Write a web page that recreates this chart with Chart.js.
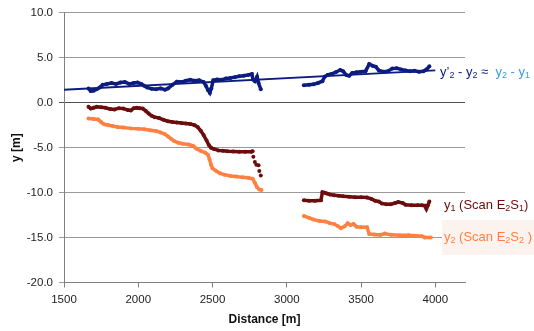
<!DOCTYPE html>
<html>
<head>
<meta charset="utf-8">
<script src="https://cdn.jsdelivr.net/npm/chart.js@4/dist/chart.umd.min.js"></script>
<style>
  html, body { margin: 0; padding: 0; background: #fff; }
  #wrap { width: 534px; height: 331px; }
</style>
</head>
<body>
<div id="wrap"><canvas id="graph" width="534" height="331"></canvas></div>
<script>
// tick labels
const xTicks = [1500, 2000, 2500, 3000, 3500, 4000];
const yTicks = [10, 5, 0, -5, -10, -15, -20];

// y'2 - y2 (navy dots), null = gap in the scan
const diffX = [1665,1680,1700,1720,1740,1760,1790,1820,1850,1880,1910,1940,1970,1995,2020,2040,2060,2090,2120,2150,2180,2200,2230,2260,2290,2320,2350,2380,2410,2440,2455,2470,2482,2492,2505,2530,2560,2590,2620,2650,2680,2710,2740,2765,2772,2785,2800,2810,2825,
  3000,
  3115,3150,3180,3210,3240,3255,3275,3300,3330,3360,3380,3400,3420,3440,3470,3500,3530,3555,3580,3600,3620,3650,3680,3710,3740,3770,3800,3830,3860,3890,3920,3940,3960];
const diffY = [1.6,1.3,1.35,1.5,1.7,2.0,2.1,2.2,2.1,2.25,2.3,2.1,2.2,2.25,2.1,1.9,1.7,1.55,1.5,1.6,1.45,1.6,2.0,2.35,2.3,2.45,2.55,2.45,2.5,2.3,1.9,1.4,1.1,1.6,2.5,2.6,2.55,2.7,2.75,2.85,2.95,3.0,3.1,3.2,2.6,2.4,2.9,2.2,1.5,
  null,
  1.95,2.0,2.05,2.2,2.4,2.9,3.1,3.2,3.4,3.65,3.5,3.1,3.0,3.3,3.4,3.45,3.5,4.3,4.1,4.0,3.6,3.45,3.5,3.8,3.85,3.7,3.6,3.5,3.55,3.45,3.5,3.7,4.05];

// linear trend of y2 - y1
const trendX = [1500, 4000];
const trendY = [1.45, 3.6];

// y1 (Scan E2S1)
const y1X = [1665,1680,1700,1720,1750,1780,1810,1840,1870,1900,1930,1950,1970,1990,2010,2030,2050,2070,2090,2110,2140,2170,2200,2230,2260,2290,2320,2350,2380,2400,2420,2440,2460,2475,2490,2510,2540,2570,2600,2640,2680,2720,2760,2770,
  3000,
  3115,3150,3190,3230,3240,3255,3270,3290,3320,3350,3380,3420,3460,3500,3540,3570,3595,3620,3640,3670,3700,3730,3750,3780,3800,3840,3880,3910,3930,3940,3950,3960];
const y1Y = [-0.45,-0.65,-0.55,-0.45,-0.5,-0.55,-0.7,-0.75,-0.6,-0.65,-0.8,-0.85,-0.6,-0.55,-0.6,-0.65,-0.9,-1.2,-1.45,-1.6,-1.7,-1.9,-2.05,-2.15,-2.2,-2.25,-2.3,-2.35,-2.5,-2.7,-3.1,-3.6,-4.2,-4.7,-5.0,-5.15,-5.3,-5.35,-5.4,-5.42,-5.45,-5.45,-5.45,-5.4,
  null,
  -10.85,-10.9,-10.9,-10.85,-9.95,-10.0,-10.1,-10.2,-10.3,-10.35,-10.4,-10.45,-10.5,-10.5,-10.55,-10.7,-10.9,-11.0,-11.2,-11.3,-11.3,-11.15,-11.05,-11.15,-11.35,-11.4,-11.4,-11.4,-11.45,-11.8,-11.4,-11.0];
// loose y1 points after the first run
const y1LooseX = [2775, 2785, 2795, 2810, 2815, 2825];
const y1LooseY = [-6.0, -6.6, -6.9, -6.95, -7.6, -8.1];

// y2 (Scan E2S2)
const y2X = [1665,1700,1730,1750,1770,1800,1830,1860,1900,1950,2000,2040,2080,2120,2150,2180,2200,2220,2240,2270,2300,2340,2370,2390,2420,2450,2470,2480,2490,2500,2520,2550,2580,2620,2660,2700,2740,2770,2785,2800,2815,2830,
  3000,
  3115,3150,3180,3220,3260,3290,3320,3345,3365,3390,3410,3430,3450,3470,3500,3540,3555,3590,3630,3660,3700,3760,3820,3870,3910,3930,3970];
const y2Y = [-1.75,-1.8,-1.85,-2.15,-2.4,-2.5,-2.6,-2.7,-2.75,-2.85,-2.9,-2.95,-3.05,-3.15,-3.3,-3.5,-3.75,-4.0,-4.25,-4.45,-4.55,-4.65,-4.8,-5.1,-5.35,-5.55,-5.8,-6.3,-6.9,-7.3,-7.55,-7.85,-8.0,-8.15,-8.2,-8.3,-8.35,-8.45,-8.9,-9.4,-9.65,-9.7,
  null,
  -12.6,-12.8,-13.0,-13.15,-13.2,-13.4,-13.5,-13.75,-13.95,-13.75,-13.4,-13.6,-13.5,-13.8,-13.85,-13.85,-14.6,-14.65,-14.7,-14.55,-14.7,-14.75,-14.75,-14.8,-14.85,-15.0,-15.0];

const pts = (xs, ys) => xs.map((x, i) => ({ x: x, y: ys[i] }));

const NAVY = '#0c1c80';
const MAROON = '#6c0c0c';
const ORANGE = '#ff8040';
const LIGHTBLUE = '#3a9ce6';
const FONT = 'Arial, "Liberation Sans", sans-serif';

function dotted(data, color) {
  return {
    data: data,
    showLine: true,
    spanGaps: false,
    borderColor: color,
    backgroundColor: color,
    borderWidth: 3.5,
    pointRadius: 2,
    pointBorderWidth: 0,
    tension: 0
  };
}

// labels at the right side, subscripts drawn smaller and lower
const seriesLabels = [
  { x: 440, y: 72, box: null, runs: [
    ['y\u2019', NAVY, 0], ['2', NAVY, 1], [' - y', NAVY, 0], ['2', NAVY, 1], [' \u2248  ', NAVY, 0],
    ['y', LIGHTBLUE, 0], ['2', LIGHTBLUE, 1], [' - y', LIGHTBLUE, 0], ['1', LIGHTBLUE, 1]] },
  { x: 444, y: 205, box: null, runs: [
    ['y', MAROON, 0], ['1', MAROON, 1], [' (Scan E', MAROON, 0], ['2', MAROON, 1], ['S', MAROON, 0], ['1', MAROON, 1], [')', MAROON, 0]] },
  { x: 444, y: 237, box: [442, 220, 92, 35], runs: [
    ['y', ORANGE, 0], ['2', ORANGE, 1], [' (Scan E', ORANGE, 0], ['2', ORANGE, 1], ['S', ORANGE, 0], ['2', ORANGE, 1], [' )', ORANGE, 0]] }
];

const labelPlugin = {
  id: 'seriesLabels',
  afterDatasetsDraw(chart) {
    const c = chart.ctx;
    c.save();
    c.textBaseline = 'middle';
    seriesLabels.forEach(l => {
      if (l.box) {
        c.fillStyle = '#fdf3ee';
        c.fillRect(l.box[0], l.box[1], l.box[2], l.box[3]);
      }
      let x = l.x;
      l.runs.forEach(r => {
        c.font = r[2] ? '9px ' + FONT : '13px ' + FONT;
        c.fillStyle = r[1];
        c.fillText(r[0], x, l.y + (r[2] ? 4 : 0));
        x += c.measureText(r[0]).width;
      });
    });
    c.restore();
  }
};

new Chart(document.getElementById('graph').getContext('2d'), {
  type: 'scatter',
  data: {
    datasets: [
      {
        data: pts(trendX, trendY),
        showLine: true,
        borderColor: NAVY,
        borderWidth: 1.8,
        pointRadius: 0
      },
      dotted(pts(diffX, diffY), NAVY),
      dotted(pts(y1X, y1Y), MAROON),
      {
        data: pts(y1LooseX, y1LooseY),
        showLine: false,
        backgroundColor: MAROON,
        borderColor: MAROON,
        pointRadius: 2,
        pointBorderWidth: 0
      },
      dotted(pts(y2X, y2Y), ORANGE)
    ]
  },
  options: {
    responsive: false,
    animation: false,
    layout: { padding: { left: 5, right: 69, top: 12, bottom: 0 } },
    plugins: {
      legend: { display: false },
      tooltip: { enabled: false }
    },
    scales: {
      x: {
        type: 'linear',
        min: 1500,
        max: 4200,
        afterBuildTicks: s => { s.ticks = xTicks.map(v => ({ value: v })); },
        afterFit: s => { s.height = 48.5; },
        ticks: {
          padding: 5,
          color: '#222',
          font: { family: FONT, size: 11.5 },
          callback: v => String(v)
        },
        grid: {
          drawOnChartArea: false,
          drawTicks: true,
          tickLength: 5,
          color: '#808080'
        },
        border: { display: true, color: '#808080', width: 1 },
        title: {
          display: true,
          text: 'Distance [m]',
          color: '#111',
          font: { family: FONT, size: 12, weight: 'bold' },
          padding: { top: 4, bottom: 4 }
        }
      },
      y: {
        min: -20,
        max: 10,
        afterBuildTicks: s => { s.ticks = yTicks.map(v => ({ value: v })); },
        afterFit: s => { s.width = 59; },
        ticks: {
          padding: 6,
          color: '#222',
          font: { family: FONT, size: 11.5 },
          callback: v => v.toFixed(1)
        },
        grid: {
          drawTicks: true,
          tickLength: 5,
          color: ctx => (ctx.tick && ctx.tick.value === 0) ? '#505050' : '#9a9a9a'
        },
        border: { display: true, color: '#808080', width: 1 },
        title: {
          display: true,
          text: 'y [m]',
          color: '#111',
          font: { family: FONT, size: 12, weight: 'bold' },
          padding: { top: 4, bottom: 4 }
        }
      }
    }
  },
  plugins: [labelPlugin]
});
</script>
</body>
</html>
